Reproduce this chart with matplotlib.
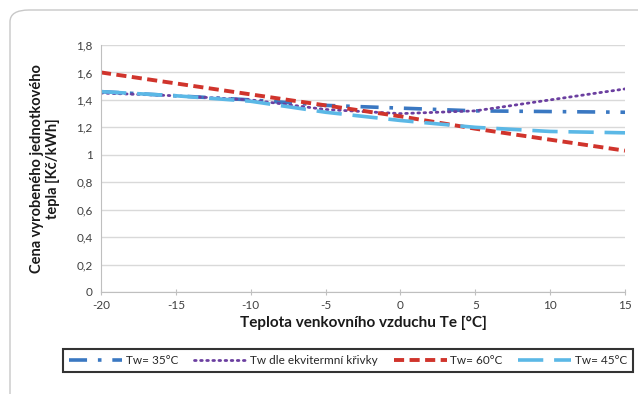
import matplotlib
matplotlib.use("Agg")
import matplotlib.pyplot as plt
from matplotlib.patches import FancyBboxPatch

temps = [-20, -15, -10, -5, 0, 5, 10, 15]
tw35 = [1.46, 1.43, 1.40, 1.36, 1.34, 1.32, 1.315, 1.31]
tw_ekv = [1.45, 1.43, 1.40, 1.33, 1.30, 1.32, 1.40, 1.48]
tw60 = [1.60, 1.52, 1.44, 1.36, 1.28, 1.19, 1.11, 1.03]
tw45 = [1.46, 1.43, 1.39, 1.31, 1.25, 1.20, 1.17, 1.16]

labels = ["Tw= 35°C", "Tw dle ekvitermní křivky", "Tw= 60°C", "Tw= 45°C"]
yticks = [0, 0.2, 0.4, 0.6, 0.8, 1.0, 1.2, 1.4, 1.6, 1.8]
ytick_labels = ["0", "0,2", "0,4", "0,6", "0,8", "1", "1,2", "1,4", "1,6", "1,8"]
xticks = [-20, -15, -10, -5, 0, 5, 10, 15]

plt.rcParams['font.family'] = ['Lato', 'DejaVu Sans']

fig = plt.figure(figsize=(6.38, 3.94), dpi=100)
fig.patch.set_facecolor("white")

# outer rounded frame (right and bottom edges fall outside the image)
frame = FancyBboxPatch((10/638, -0.08), 1.1, 1 - 10/394 + 0.08,
                       boxstyle="round,pad=0,rounding_size=0.03",
                       transform=fig.transFigure, fill=False,
                       edgecolor="#C8C8C8", linewidth=1.0)
fig.patches.append(frame)

ax = fig.add_axes([101/638, 1 - 292/394, (625 - 101)/638, (292 - 45)/394])

ax.plot(temps, tw35, color="#3A78C2", lw=2.6, dashes=(5, 3, 1, 3), label=labels[0])
ax.plot(temps, tw_ekv, color="#6B3FA0", lw=2.0, linestyle=(0, (0.6, 1.6)),
        dash_capstyle="round", label=labels[1])
ax.plot(temps, tw60, color="#D0342C", lw=2.8, dashes=(2.6, 1.4), label=labels[2])
ax.plot(temps, tw45, color="#5BB8E6", lw=2.6, dashes=(7, 3), label=labels[3])

ax.set_xlim(-20, 15)
ax.set_ylim(0, 1.8)
ax.set_xticks(xticks)
ax.set_xticklabels([str(t) for t in xticks])
ax.set_yticks(yticks)
ax.set_yticklabels(ytick_labels)
ax.grid(axis="y", color="#D9D9D9", lw=1.0)
ax.set_axisbelow(True)
for s in ["top", "right"]:
    ax.spines[s].set_visible(False)
ax.spines["left"].set_color("#BFBFBF")
ax.spines["bottom"].set_color("#BFBFBF")
ax.tick_params(axis="both", labelsize=8.5, colors="#404040", length=3, color="#BFBFBF")
ax.tick_params(axis="y", length=0, pad=6)
ax.tick_params(axis="x", direction="inout", length=4, pad=4)

ax.set_xlabel("Teplota venkovního vzduchu Te [°C]", fontsize=11, fontweight="bold",
              color="#1a1a1a", labelpad=3)
ax.set_ylabel("Cena vyrobeného jednotkového\ntepla [Kč/kWh]", fontsize=10.5,
              fontweight="bold", color="#1a1a1a", labelpad=12, linespacing=1.1)

leg = fig.legend(loc="lower left", bbox_to_anchor=(63/638, 1 - 372/394, (633 - 63)/638, 27/394),
                 mode="expand", ncol=4, fontsize=8.5, frameon=True, fancybox=False,
                 handlelength=4.5, handletextpad=0.3, borderaxespad=0, columnspacing=1.0,
                 borderpad=0.5, labelcolor="#262626")
leg.get_frame().set_edgecolor("black")
leg.get_frame().set_linewidth(1.5)

fig.savefig("out.png", dpi=100)
